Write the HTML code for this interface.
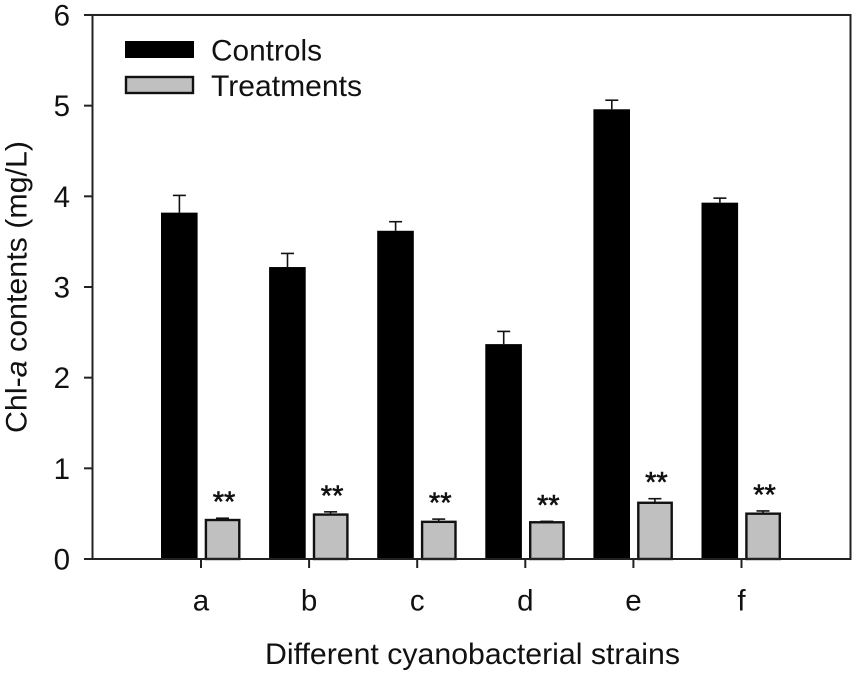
<!DOCTYPE html>
<html lang="en">
<head>
<meta charset="utf-8">
<title>Chl-a contents by cyanobacterial strain</title>
<style>
html,body{margin:0;padding:0;background:#fff;}
svg{display:block;}
text{font-family:"Liberation Sans",sans-serif;fill:#111;}
</style>
</head>
<body>
<svg id="chart" width="854" height="675" viewBox="0 0 854 675" xmlns="http://www.w3.org/2000/svg">
  <rect x="0" y="0" width="854" height="675" fill="#fff"/>
  <g id="marks"></g>
  <g id="axes"></g>
  <g>
    <rect x="125" y="41" width="69" height="17" fill="#000"/>
    <text x="211" y="60.5" font-size="29.5" textLength="111" lengthAdjust="spacingAndGlyphs">Controls</text>
    <rect x="126" y="77" width="67" height="16" fill="#c0c0c0" stroke="#111" stroke-width="2.4"/>
    <text x="211" y="96" font-size="29.5" textLength="151" lengthAdjust="spacingAndGlyphs">Treatments</text>
  </g>
  <text x="265" y="664" font-size="29.5" textLength="415" lengthAdjust="spacingAndGlyphs">Different cyanobacterial strains</text>
  <text transform="translate(26.5,433) rotate(-90)" font-size="29.5" textLength="292" lengthAdjust="spacingAndGlyphs">Chl-<tspan font-style="italic">a</tspan> contents (mg/L)</text>
</svg>
<script>
var categories = ['a', 'b', 'c', 'd', 'e', 'f'];
var controls = [3.82, 3.22, 3.62, 2.37, 4.96, 3.93];
var controlsErr = [0.19, 0.15, 0.10, 0.14, 0.10, 0.05];
var treatments = [0.43, 0.49, 0.41, 0.405, 0.62, 0.50];
var treatmentsErr = [0.02, 0.03, 0.03, 0.01, 0.045, 0.03];
var significance = ['**', '**', '**', '**', '**', '**'];
var yTicks = [0, 1, 2, 3, 4, 5, 6];

var NS = 'http://www.w3.org/2000/svg';
var marks = document.getElementById('marks');
var axes = document.getElementById('axes');

function yScale(v) { return 559 - v * 90.67; }
function xScale(i) { return 201 + i * 108.1; }

function make(parent, tag, attrs) {
  var el = document.createElementNS(NS, tag);
  for (var k in attrs) { el.setAttribute(k, attrs[k]); }
  parent.appendChild(el);
  return el;
}

function errorBar(parent, cx, val, err) {
  var g = make(parent, 'g', {});
  
  
  make(g, 'line', { x1: cx, x2: cx, y1: yScale(val), y2: yScale(val + err), stroke: '#111', 'stroke-width': 1.6 });
  make(g, 'line', { x1: cx - 6.5, x2: cx + 6.5, y1: yScale(val + err), y2: yScale(val + err), stroke: '#111', 'stroke-width': 1.6 });
}

categories.forEach(function (cat, i) {
  var x = xScale(i);

  errorBar(marks, x - 21.6, controls[i], controlsErr[i]);
  var cb = make(marks, 'rect', { x: x - 40, y: yScale(controls[i]), width: 36.6, height: yScale(0) - yScale(controls[i]), fill: '#000' });
  
  

  errorBar(marks, x + 21.5, treatments[i], treatmentsErr[i]);
  var tb = make(marks, 'rect', { x: x + 4.9, y: yScale(treatments[i]), width: 33.4, height: yScale(0) - yScale(treatments[i]), fill: '#c0c0c0', stroke: '#111', 'stroke-width': 2.4 });
  
  

  var st = make(marks, 'text', { x: x + 23, y: yScale(treatments[i] + treatmentsErr[i]) - 6.5, 'font-size': 29, 'text-anchor': 'middle', stroke: '#111', 'stroke-width': 0.6 });
  st.textContent = significance[i];
  
  

  var tick = make(axes, 'line', { x1: x, x2: x, y1: yScale(0), y2: yScale(0) + 9, stroke: '#222', 'stroke-width': 2 });
  
  

  var lab = make(axes, 'text', { x: x, y: 610.5, 'font-size': 29.5, 'text-anchor': 'middle' });
  lab.textContent = cat;
  
  
});

yTicks.forEach(function (v) {
  var y = yScale(v);
  var tick = make(axes, 'line', { x1: 84, x2: 92, y1: y, y2: y, stroke: '#222', 'stroke-width': 2 });
  
  

  var lab = make(axes, 'text', { x: 70, y: y + 10.5, 'font-size': 29.5, 'text-anchor': 'end' });
  lab.textContent = v;
  
  
});

var frame = make(axes, 'rect', { x: 92.5, y: yScale(6), width: 758, height: yScale(0) - yScale(6), fill: 'none', stroke: '#222', 'stroke-width': 2 });


</script>
</body>
</html>
